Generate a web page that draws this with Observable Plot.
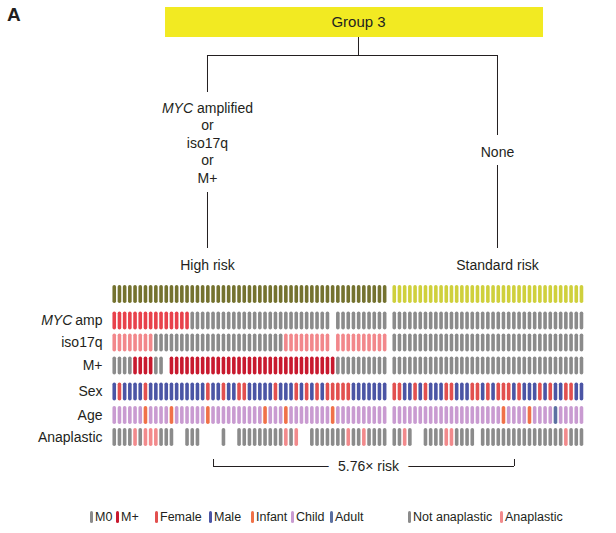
<!DOCTYPE html>
<html><head><meta charset="utf-8">
<script src="https://cdn.jsdelivr.net/npm/d3@7"></script>
<script src="https://cdn.jsdelivr.net/npm/@observablehq/plot@0.6"></script>
<style>
body{margin:0;background:#fff;font-family:"Liberation Sans",Arial,sans-serif;color:#231f20}
#wrap{position:relative;width:616px;height:533px;overflow:hidden}
#panel{position:absolute;left:7px;top:4px;font-weight:bold;font-size:19px}
#legend{position:absolute;left:0;top:509px;width:616px;height:18px;font-size:12.5px}
.li{position:absolute;top:0;white-space:nowrap;line-height:16px}
.sw{display:inline-block;width:3px;height:12px;border-radius:1.5px;vertical-align:-2px;margin-right:2px}
</style></head><body><div id="wrap"><div id="panel">A</div><div id="chart"></div><div id="legend"></div></div>
<script>
// ---------------- DATA ----------------
const groups = ["High risk", "Standard risk"];
const rowNames = ["Group", "MYC amp", "iso17q", "M+", "Sex", "Age", "Anaplastic"];
// one character per patient; "." = not available
// High risk (53 patients)
const highMYC  = "AAAAAAAAAAAAAAAnnnnnnnnnnnnnnnnnnnnnnnnnnn.nnnnnnnnnn";
const highIso  = "IIIIIIIInnnnnnnnnnnnnnnnnnnnnnnnnIIIIIIIII.IIIIIIIIII";
const highM    = "0000MMMM00.MMMMMMMMMMMMMMMMMMMMMMMMMMMMMMMM0000000000";
const highSex  = "MFMMMMFMMMMMMMMMMMFMMFMMFFMMMMMFMMMFMFMFMFFFFFMMMMMMM";
const highAge  = "CCCCCCICCCCICCCCCCICCCCCCCCCCICCCICCCCCCCCICCCCCCCCCC";
const highAna  = "nnnnAnAAAnnn..nnn....n..nnnnnnnnnAnA..nnnnnnnAnnAnnnn";
// Standard risk (37 patients)
const stdMYC   = "nnnnnnnnnnnnnnnnnnnnnnnnnnnnnnnnnnnnn";
const stdIso   = "nnnnnnnnnnnnnnnnnnnnnnnnnnnnnnnnnnnnn";
const stdM     = "0000000000000000000000000000000000000";
const stdSex   = "FFMMFMFMMMFFMMMFFMFMFFFMFMMMFMFMMFFMM";
const stdAge   = "CCCCCCCCCCCCCCCCCCCCCICCCCICCCCACCCCC";
const stdAna   = "nnAn..nnnnAAnnnn.nnnnnnnnnnnnnnnnAnnn";

const codeLabels = {
  "MYC amp":   {A: "MYC amplified", n: "MYC not amplified"},
  "iso17q":    {I: "iso17q", n: "No iso17q"},
  "M+":        {M: "M+", 0: "M0"},
  "Sex":       {F: "Female", M: "Male"},
  "Age":       {I: "Infant", C: "Child", A: "Adult"},
  "Anaplastic":{A: "Anaplastic", n: "Not anaplastic"}
};
const colorDomain = ["High risk","Standard risk","MYC amplified","MYC not amplified","iso17q","No iso17q","M+","M0","Female","Male","Infant","Child","Adult","Anaplastic","Not anaplastic"];
const colorRange  = ["#74722f","#cfd03c","#e8414b","#8b8b8b","#f2878b","#8b8b8b","#c8192e","#8b8b8b","#e2504f","#4b55a5","#f07148","#c99bd1","#5b70a1","#f28a8c","#8b8b8b"];
const legendItems = ["M0","M+","Female","Male","Infant","Child","Adult","Not anaplastic","Anaplastic"];
const riskText = "5.76× risk";

// ---------------- LAYOUT ----------------
const groupData = {
  "High risk":     {"MYC amp": highMYC, "iso17q": highIso, "M+": highM, "Sex": highSex, "Age": highAge, "Anaplastic": highAna},
  "Standard risk": {"MYC amp": stdMYC,  "iso17q": stdIso,  "M+": stdM,  "Sex": stdSex,  "Age": stdAge,  "Anaplastic": stdAna}
};
const GROUP_GAP = 1.85;   // extra column units between the two groups
const rowY = {"Group": 294, "MYC amp": 320.5, "iso17q": 342.5, "M+": 365.5, "Sex": 391.5, "Age": 415, "Anaplastic": 437};
const HALF = 7.2;

const cells = [];
let offset = 0;
const groupSpan = {};
for (const g of groups) {
  const rows = groupData[g];
  const n = rows["MYC amp"].length;
  for (const r of rowNames.slice(1)) if (rows[r].length !== n) throw new Error(g + " " + r + " length " + rows[r].length + " != " + n);
  for (let i = 0; i < n; i++) {
    cells.push({group: g, row: "Group", pos: offset + i, key: g});
    for (const r of rowNames.slice(1)) {
      const c = rows[r][i];
      if (c === ".") continue;
      cells.push({group: g, row: r, pos: offset + i, key: codeLabels[r][c]});
    }
  }
  groupSpan[g] = [offset, offset + n - 1];
  offset += n - 1 + GROUP_GAP;
}
const lastPos = groupSpan["Standard risk"][1];

// tree layout (column units / pixel rows)
const T = {boxX1: 9.86, boxX2: 82.55, rootX: 46.97, highX: 17.93, stdX: 73.7, boxY1: 7, boxY2: 37, hY: 55};
const treeV = [
  {x: T.rootX, y1: T.boxY2, y2: T.hY},
  {x: T.highX, y1: T.hY, y2: 92}, {x: T.highX, y1: 192, y2: 248},
  {x: T.stdX, y1: T.hY, y2: 135}, {x: T.stdX, y1: 165, y2: 248}
];
const treeH = [{y: T.hY, x1: T.highX, x2: T.stdX}];
const treeMid = [
  {x: T.highX, y: 125.5, t: "or"}, {x: T.highX, y: 143, t: "iso17q"},
  {x: T.highX, y: 160.5, t: "or"}, {x: T.highX, y: 178, t: "M+"},
  {x: T.stdX, y: 152, t: "None"},
  {x: T.highX, y: 265, t: "High risk"}, {x: T.stdX, y: 265, t: "Standard risk"}
];
const B = {x1: 19.09, x2: 76.97, y: 466, tick: 7, tx: 48.9};
const labelRows = rowNames.slice(2).map(r => ({row: r, t: r}));

const ink = "#231f20";
const chart = Plot.plot({
  width: 616, height: 500,
  marginTop: 0, marginRight: 0, marginBottom: 0, marginLeft: 0,
  x: {type: "linear", domain: [0, lastPos], range: [113.75, 580.97], axis: null},
  y: {type: "linear", domain: [0, 500], range: [0, 500], axis: null},
  color: {type: "ordinal", domain: colorDomain, range: colorRange},
  style: {fontFamily: "'Liberation Sans', Arial, sans-serif", fontSize: "14px", color: ink, background: "white", overflow: "visible"},
  marks: [
    Plot.rect([T], {x1: "boxX1", x2: "boxX2", y1: "boxY1", y2: "boxY2", fill: "#f2ea22"}),
    Plot.text([T], {x: "rootX", y: d => (d.boxY1 + d.boxY2) / 2, text: () => "Group 3", fontSize: 15, fill: ink}),
    Plot.ruleX(treeV, {x: "x", y1: "y1", y2: "y2", stroke: ink, strokeWidth: 1}),
    Plot.ruleY(treeH, {y: "y", x1: "x1", x2: "x2", stroke: ink, strokeWidth: 1}),
    Plot.text([T], {x: "highX", y: 108, text: () => "MYC", textAnchor: "end", dx: -14.4, fontStyle: "italic", fill: ink}),
    Plot.text([T], {x: "highX", y: 108, text: () => "amplified", textAnchor: "start", dx: -10.5, fill: ink}),
    Plot.text(treeMid, {x: "x", y: "y", text: "t", fill: ink}),
    // patient grid
    Plot.ruleX(cells, {x: "pos", y1: d => rowY[d.row] - HALF, y2: d => rowY[d.row] + HALF, stroke: "key", strokeWidth: 3.6, strokeLinecap: "round"}),
    // row labels
    Plot.text([0], {x: 0, y: rowY["MYC amp"], text: () => "MYC", textAnchor: "end", dx: -42, fontStyle: "italic", fill: ink}),
    Plot.text([0], {x: 0, y: rowY["MYC amp"], text: () => "amp", textAnchor: "end", dx: -11.75, fill: ink}),
    Plot.text(labelRows, {x: 0, y: d => rowY[d.row], text: "t", textAnchor: "end", dx: -11.75, fill: ink}),
    // risk bracket
    Plot.ruleY([B], {y: "y", x1: "x1", x2: "x2", stroke: ink, strokeWidth: 1}),
    Plot.ruleX([B.x1, B.x2], {x: d => d, y1: B.y - B.tick, y2: B.y, stroke: ink, strokeWidth: 1}),
    Plot.text([B], {x: "tx", y: "y", text: () => riskText, fill: ink, stroke: "white", strokeWidth: 20, paintOrder: "stroke"})
  ]
});
document.getElementById("chart").appendChild(chart);

// legend (colours taken from the chart's colour scale)
const legendLeft = {"M0": 90, "M+": 116, "Female": 155, "Male": 209, "Infant": 251, "Child": 291, "Adult": 330, "Not anaplastic": 408, "Anaplastic": 500};
const color = chart.scale("color");
const colorOf = k => color.range[color.domain.indexOf(k)];
const leg = document.getElementById("legend");
for (const k of legendItems) {
  const s = document.createElement("span");
  s.className = "li";
  s.style.left = legendLeft[k] + "px";
  s.innerHTML = `<span class="sw" style="background:${colorOf(k)}"></span>${k}`;
  leg.appendChild(s);
}
</script></body></html>
